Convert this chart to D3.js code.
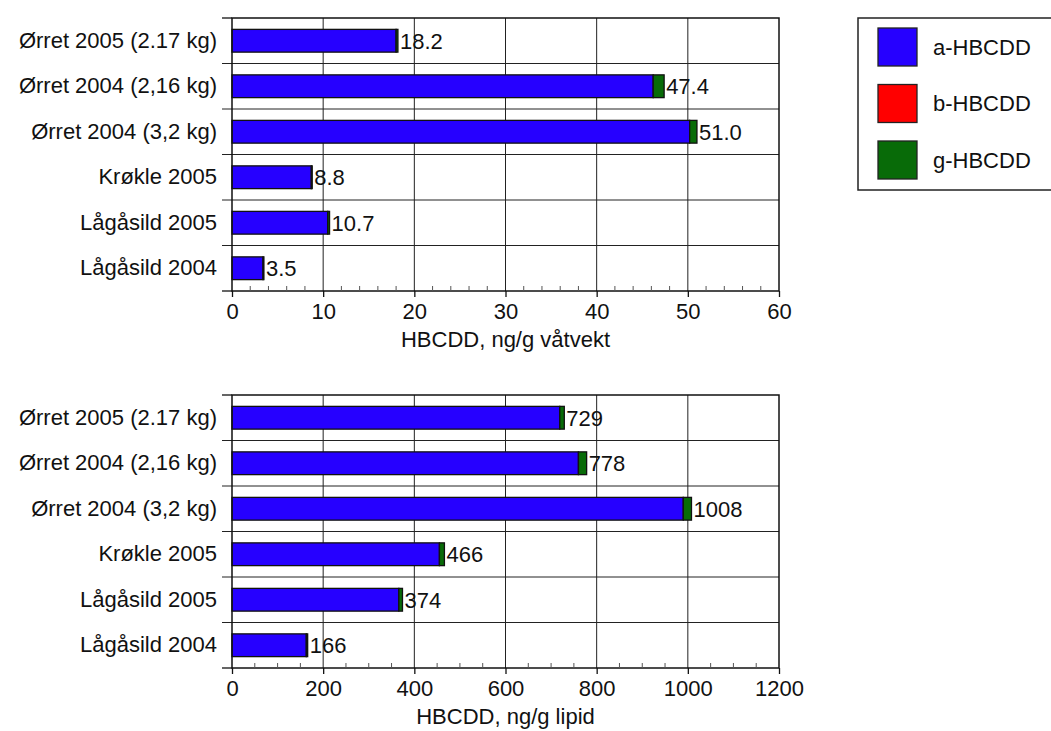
<!DOCTYPE html>
<html>
<head>
<meta charset="utf-8">
<script src="https://cdn.jsdelivr.net/npm/d3@7"></script>
<style>
  body { margin: 0; background: #fff; }
  text { font-family: "Liberation Sans", Arial, sans-serif; fill: #111; }
</style>
</head>
<body>
<svg width="1051" height="731"></svg>
<script>
const categories = ["Ørret 2005 (2.17 kg)", "Ørret 2004 (2,16 kg)", "Ørret 2004 (3,2 kg)", "Krøkle 2005", "Lågåsild 2005", "Lågåsild 2004"];
const seriesNames = ["a-HBCDD", "b-HBCDD", "g-HBCDD"];
const seriesColors = ["#2600ff", "#ff0000", "#086b08"];

// våtvekt (ng/g)
const wetA = [18.0, 46.2, 50.2, 8.7, 10.5, 3.4];
const wetB = [0, 0, 0, 0, 0, 0];
const wetG = [0.2, 1.2, 0.8, 0.1, 0.2, 0.1];
const wetTotals = ["18.2", "47.4", "51.0", "8.8", "10.7", "3.5"];

// lipid (ng/g)
const lipA = [719, 760, 990, 455, 366, 163];
const lipB = [0, 0, 0, 0, 0, 0];
const lipG = [10, 18, 18, 11, 8, 3];
const lipTotals = ["729", "778", "1008", "466", "374", "166"];

const svg = d3.select("svg");
const left = 232, right = 779;
const fs = 22;

function panel(top, bottom, a, b, g, totals, max, major, minor, title) {
  const gEl = svg.append("g");
  const x = d3.scaleLinear().domain([0, max]).range([left, right]);
  const y = d3.scaleBand().domain(categories).range([top, bottom]).paddingInner(0.5).paddingOuter(0.25);
  const yb = d3.scaleBand().domain(categories).range([top, bottom]);

  const rows = categories.map((c, i) => ({cat: c, vals: [a[i], b[i], g[i]], total: totals[i]}));
  const stacked = d3.stack().keys([0, 1, 2]).value((d, k) => d.vals[k])(rows);

  // grid lines
  gEl.selectAll(".vgrid").data(d3.range(major, max, major)).enter().append("line")
    .attr("x1", d => x(d)).attr("x2", d => x(d)).attr("y1", top).attr("y2", bottom)
    .attr("stroke", "#222").attr("stroke-width", 1);
  gEl.selectAll(".hgrid").data(categories.slice(1)).enter().append("line")
    .attr("x1", left - 10).attr("x2", right).attr("y1", d => yb(d)).attr("y2", d => yb(d))
    .attr("stroke", "#222").attr("stroke-width", 1);

  // bars
  stacked.forEach((layer, k) => {
    gEl.selectAll(".bar" + k).data(layer.filter(d => d[1] - d[0] > 0)).enter().append("rect")
      .attr("x", d => x(d[0]))
      .attr("y", d => y(d.data.cat))
      .attr("width", d => x(d[1]) - x(d[0]))
      .attr("height", y.bandwidth())
      .attr("fill", seriesColors[k])
      .attr("stroke", "#111").attr("stroke-width", 1.3);
  });

  // value labels
  gEl.selectAll(".val").data(rows).enter().append("text")
    .attr("x", d => x(d3.sum(d.vals)) + 2)
    .attr("y", d => y(d.cat) + y.bandwidth() / 2)
    .attr("dy", "0.36em")
    .attr("font-size", fs)
    .text(d => d.total);

  // frame
  gEl.append("rect").attr("x", left).attr("y", top).attr("width", right - left).attr("height", bottom - top)
    .attr("fill", "none").attr("stroke", "#111").attr("stroke-width", 1.5);

  // y axis
  const yAxis = gEl.append("g").attr("transform", `translate(${left},0)`)
    .call(d3.axisLeft(yb).tickSize(0).tickPadding(15));
  yAxis.select(".domain").remove();
  yAxis.attr("font-size", fs).attr("font-family", null);
  gEl.selectAll(".ytick").data([top, bottom]).enter().append("line")
    .attr("x1", left - 10).attr("x2", left).attr("y1", d => d).attr("y2", d => d)
    .attr("stroke", "#111").attr("stroke-width", 1.3);

  // x axis
  const xAxis = gEl.append("g").attr("transform", `translate(0,${bottom})`)
    .call(d3.axisBottom(x).tickValues(d3.range(0, max + 1, major)).tickFormat(d3.format("d")).tickSize(6).tickPadding(6));
  xAxis.select(".domain").remove();
  xAxis.attr("font-size", fs).attr("font-family", null);
  xAxis.selectAll("line").attr("stroke", "#111").attr("stroke-width", 1.3);
  gEl.selectAll(".minor").data(d3.range(minor, max, minor).filter(v => Math.abs(v / major - Math.round(v / major)) > 1e-6))
    .enter().append("line")
    .attr("x1", d => x(d)).attr("x2", d => x(d)).attr("y1", bottom - 5).attr("y2", bottom)
    .attr("stroke", "#555").attr("stroke-width", 1);

  gEl.append("text").attr("x", (left + right) / 2).attr("y", bottom + 56)
    .attr("text-anchor", "middle").attr("font-size", fs).text(title);
}

panel(18, 291, wetA, wetB, wetG, wetTotals, 60, 10, 2, "HBCDD, ng/g våtvekt");
panel(395, 668, lipA, lipB, lipG, lipTotals, 1200, 200, 50, "HBCDD, ng/g lipid");

// legend
const leg = svg.append("g");
leg.append("rect").attr("x", 858).attr("y", 18).attr("width", 200).attr("height", 172)
  .attr("fill", "#fff").attr("stroke", "#222").attr("stroke-width", 1.5);
const ly = d3.scalePoint().domain(seriesNames).range([47, 160]);
seriesNames.forEach((n, i) => {
  leg.append("rect").attr("x", 878).attr("y", ly(n) - 19).attr("width", 39).attr("height", 38)
    .attr("fill", seriesColors[i]).attr("stroke", "#222").attr("stroke-width", 1.3);
  leg.append("text").attr("x", 933).attr("y", ly(n)).attr("dy", "0.36em")
    .attr("font-size", fs).text(n);
});
</script>
</body>
</html>
